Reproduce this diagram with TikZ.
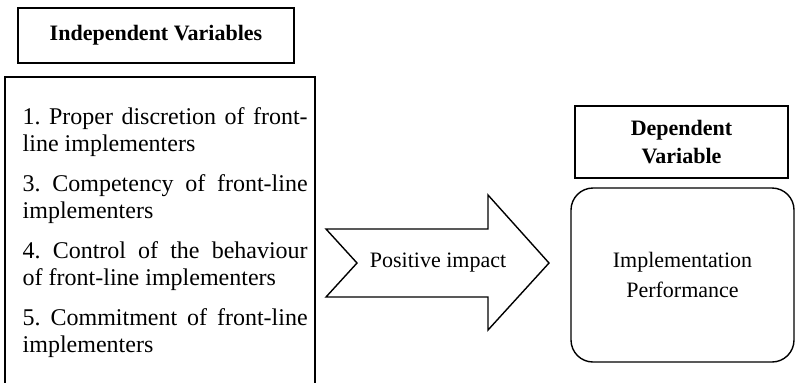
\documentclass[tikz,border=0pt]{standalone}
\usepackage{fontspec}
\setmainfont{Liberation Serif}
\frenchspacing
\begin{document}
\begin{tikzpicture}[x=0.5pt,y=-0.5pt,line width=0.7pt,
  boxed/.style={draw=black,inner sep=0pt,align=center},
  titlefont/.style={font=\fontsize{11}{14}\selectfont\bfseries},
  bodyfont/.style={font=\fontsize{11}{15}\selectfont}]
\useasboundingbox (0,0) rectangle (795,382);
\clip (0,0) rectangle (795,382);
% Independent variables title
\node[boxed,titlefont,minimum width=138pt,minimum height=27.5pt] (indep) at (156,35.5) {Independent Variables};
% list box (bottom lies below the picture's edge)
\node[draw=black,inner sep=0pt,minimum width=155pt,minimum height=171.5pt] (listbox) at (160,248.5) {};
\node[anchor=north west,inner sep=0pt,text width=142.5pt,align=justify,
  font=\fontsize{12}{13.5}\selectfont] (items) at (22,105.1)
  {\frenchspacing\hyphenpenalty=10000\tolerance=9999\parskip=6.5pt\relax
   \strut 1. Proper discretion of front-\linebreak line implementers\par
   3. Competency of front-line\linebreak implementers\par
   4. Control of the behaviour\linebreak of front-line implementers\par
   5. Commitment of front-line\linebreak implementers\par};
% arrow
\draw (326,229) -- (488,229) -- (488,195) -- (549,263) -- (488,330) -- (488,297) -- (326,297) -- (357,263) -- cycle;
\node[bodyfont,inner sep=0pt] (impact) at (438,263) {Positive impact};
% dependent variable
\node[boxed,titlefont,minimum width=106.5pt,minimum height=36pt] (dep) at (681.5,142) {Dependent\\Variable};
\node[boxed,bodyfont,rounded corners=11pt,minimum width=111.5pt,minimum height=87pt] (perf) at (682.5,275) {Implementation\\Performance};
\end{tikzpicture}
\end{document}
